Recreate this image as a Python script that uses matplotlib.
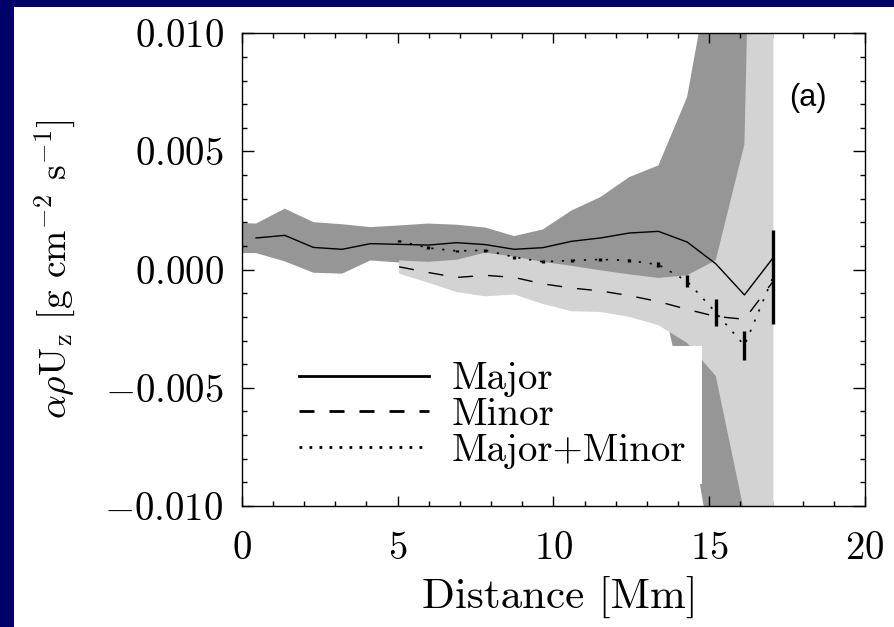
import matplotlib.pyplot as plt
from matplotlib.lines import Line2D
from matplotlib.patches import Rectangle
from matplotlib.ticker import MultipleLocator
import numpy as np

plt.rcParams['font.family'] = 'cmr10'
plt.rcParams['mathtext.fontset'] = 'cm'
plt.rcParams['axes.unicode_minus'] = False
plt.rcParams['axes.formatter.use_mathtext'] = True

# bin centres along the cut [Mm]
dist = [0.46, 1.38, 2.30, 3.22, 4.13, 5.05, 5.98, 6.90, 7.82, 8.74,
        9.66, 10.59, 11.51, 12.44, 13.37, 14.29, 15.21, 16.13, 17.05]

# flux values, in units of 1e-3 g cm^-2 s^-1
major = [1.34, 1.45, 0.94, 0.86, 1.10, 1.07, 1.04, 1.14, 1.06, 0.86,
         0.93, 1.20, 1.34, 1.55, 1.62, 1.17, 0.25, -1.07, 0.50]

# spread of the major-axis flux (starts at the left edge)
major_band_x = [0.0] + dist
major_hi = [1.97, 1.95, 2.58, 2.01, 1.92, 1.80, 1.87, 1.95, 1.90, 1.78, 1.42,
            1.70, 2.51, 3.07, 3.92, 4.41, 7.30, 14.0, 30.0, 30.0]
major_lo = [0.70, 0.70, 0.35, -0.13, -0.17, 0.39, 0.30, 0.20, 0.25, 0.35, 0.30,
            0.15, -0.30, -0.50, -0.60, -0.60, -5.90, -13.0, -30.0, -30.0]

minor_x = dist[5:]
minor = [0.12, -0.12, -0.33, -0.24, -0.33, -0.60, -0.78, -0.90, -1.10,
         -1.35, -1.68, -1.98, -2.10, -0.50]
minor_hi = [0.39, 0.33, 0.42, 0.72, 0.55, 0.33, 0.16, -0.03, -0.20,
            -0.35, -0.24, 0.40, 5.30, 60.0]
minor_lo = [-0.17, -0.55, -0.95, -1.13, -1.05, -1.45, -1.76, -1.79, -2.00,
            -2.35, -3.10, -4.50, -10.3, -20.0]

both = [1.21, 0.92, 0.79, 0.82, 0.53, 0.33, 0.39, 0.43, 0.39,
        0.21, -0.49, -1.81, -3.21, -0.31]
both_err = [0.06, 0.06, 0.06, 0.06, 0.06, 0.06, 0.06, 0.06, 0.06,
            0.10, 0.25, 0.58, 0.60, 1.97]

xticks = [0, 5, 10, 15, 20]
yticks = [-0.010, -0.005, 0.000, 0.005, 0.010]
labels = ['Major', 'Minor', 'Major+Minor']

s = 1e-3
navy = '#00006a'

fig = plt.figure(figsize=(8.94, 6.27), dpi=100, facecolor='white')
# navy strips down the left and along the top
fig.add_artist(Rectangle((0, 0), 14 / 894, 1, transform=fig.transFigure,
                         facecolor=navy, edgecolor='none', zorder=-1))
fig.add_artist(Rectangle((0, 1 - 7 / 627), 1, 7 / 627, transform=fig.transFigure,
                         facecolor=navy, edgecolor='none', zorder=-1))

ax = fig.add_axes([0.2704, 0.193, 0.6972, 0.7539])

ax.fill_between(major_band_x, np.array(major_lo) * s, np.array(major_hi) * s,
                color='#969696', lw=0, zorder=1)
ax.fill_between(minor_x, np.array(minor_lo) * s, np.array(minor_hi) * s,
                color='#d3d3d3', lw=0, zorder=2)

ax.plot(dist, np.array(major) * s, color='k', lw=1.0, zorder=3)
ax.plot(minor_x, np.array(minor) * s, color='k', lw=1.0, dashes=(10.8, 10.8), zorder=3)
ax.plot(minor_x, np.array(both) * s, color='k', lw=1.2, dashes=(1.3, 5.3), zorder=3)
ax.errorbar(minor_x, np.array(both) * s, yerr=np.array(both_err) * s, fmt='none',
            ecolor='k', elinewidth=2.4, capsize=0, zorder=4)

ax.set_xlim(0, 20)
ax.set_ylim(-0.010, 0.010)
ax.set_xticks(xticks)
ax.set_xticklabels(['$%d$' % t for t in xticks])
ax.set_yticks(yticks)
ax.set_yticklabels(['$%.3f$' % t for t in yticks])
ax.xaxis.set_minor_locator(MultipleLocator(1))
ax.yaxis.set_minor_locator(MultipleLocator(0.001))

ax.tick_params(which='both', direction='in', top=True, right=True, width=1.0)
ax.tick_params(axis='x', which='major', length=7, pad=18, labelsize=28)
ax.tick_params(axis='y', which='major', length=8.6, pad=13, labelsize=28)
ax.tick_params(which='minor', length=3.8)
for sp in ax.spines.values():
    sp.set_linewidth(1.0)

ax.set_xlabel('Distance [Mm]', fontsize=31)
ax.xaxis.set_label_coords(0.51, -0.148)
ax.set_ylabel(r'$\alpha\rho$U$_{\rm z}$ [g cm$^{-2}$ s$^{-1}$]', fontsize=27)
ax.yaxis.set_label_coords(-0.264, 0.5)

ax.text(18.16, 0.00725, '(a)', family='Liberation Sans', fontsize=22,
        ha='center', va='center')

handles = [Line2D([], [], color='k', lw=2.0),
           Line2D([], [], color='k', lw=2.0, dashes=(5.4, 5.4)),
           Line2D([], [], color='k', lw=2.0, dashes=(1.0, 2.6))]
leg = ax.legend(handles, labels, loc='upper left', bbox_to_anchor=(0.0664, 0.339),
                borderaxespad=0, borderpad=0.4, handlelength=3.34, handletextpad=0.6,
                labelspacing=0.0, fontsize=28, frameon=True, fancybox=False,
                framealpha=1, facecolor='white')
leg.get_frame().set_linewidth(0)

fig.savefig('out.png', dpi=100, facecolor='white')
